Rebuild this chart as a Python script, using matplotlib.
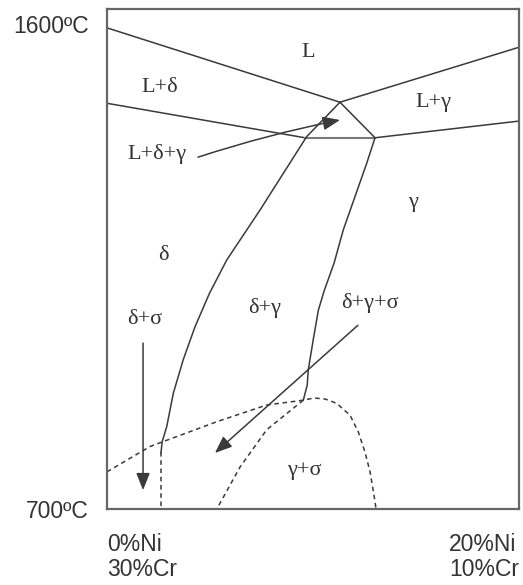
import matplotlib
matplotlib.use("Agg")
import matplotlib.pyplot as plt
from matplotlib.patches import FancyArrowPatch

# Pseudo-binary Fe-Cr-Ni section: x = %Ni (0..20), y = temperature in degC
liq_delta_ni = [0.0, 11.31]
liq_delta_t = [1593, 1455]
liq_gamma_ni = [11.31, 20.0]
liq_gamma_t = [1455, 1557]
sol_delta_ni = [0.0, 9.61]
sol_delta_t = [1453, 1389]
sol_gamma_ni = [13.01, 20.0]
sol_gamma_t = [1389, 1420]
eutectic_ni = [9.61, 13.01]
eutectic_t = [1389, 1389]
tri_right_ni = [11.31, 13.01]
tri_right_t = [1455, 1389]

delta_bound_ni = [11.31, 9.69, 8.56, 7.43, 5.81, 4.97, 4.27, 3.70, 3.22, 2.90, 2.68, 2.62]
delta_bound_t = [1455, 1391, 1323, 1255, 1162, 1100, 1038, 977, 915, 853, 825, 805]
delta_low_ni = [2.62, 2.62]
delta_low_t = [805, 700]

gamma_bound_ni = [13.01, 12.61, 12.04, 11.47, 11.02, 10.55, 10.26, 10.01, 9.77, 9.72, 9.53]
gamma_bound_t = [1389, 1342, 1280, 1218, 1156, 1106, 1069, 1014, 958, 930, 902]

sigma_ni = [0.0, 2.09, 2.72, 5.33, 7.75, 9.53, 10.05, 10.60, 11.15, 11.80, 12.20, 12.52, 12.77, 13.01, 13.06]
sigma_t = [769, 816, 825, 862, 893, 902, 906, 904, 896, 874, 843, 806, 769, 714, 700]

gs_bound_ni = [9.53, 7.75, 6.46, 5.33]
gs_bound_t = [902, 847, 778, 700]

region_labels = ["L", "L+δ", "L+γ", "L+δ+γ", "γ", "δ", "δ+γ", "δ+γ+σ", "δ+σ", "γ+σ"]
label_ni = [9.76, 2.57, 15.83, 2.43, 14.85, 2.72, 7.67, 12.77, 1.84, 9.56]
label_t = [1548, 1483, 1455, 1359, 1268, 1171, 1073, 1082, 1051, 771]

# arrows from start point to tip, with arc curvature
arrow_start_ni = [4.42, 1.75, 12.18]
arrow_start_t = [1353, 1008, 1041]
arrow_end_ni = [11.31, 1.75, 5.24]
arrow_end_t = [1422, 735, 804]
arrow_rad = [-0.03, 0.0, 0.0]

y_ticks = [700, 1600]
y_ticklabels = ["700ºC", "1600ºC"]
x_ticks = [0, 20]
x_ticklabels = ["0%Ni\n30%Cr", "20%Ni\n10%Cr"]

W, H = 523, 585
fig = plt.figure(figsize=(W / 100, H / 100), dpi=100)
ax = fig.add_axes([107 / W, 1 - 509 / H, 412 / W, 500 / H])
ax.set_xlim(0, 20)
ax.set_ylim(700, 1628)

line_c = "#3a3a3a"
lw = 1.1
solid = dict(color=line_c, lw=lw, solid_joinstyle="round")
dashed = dict(color=line_c, lw=lw, linestyle=(0, (3.0, 2.4)))

ax.plot(liq_delta_ni, liq_delta_t, **solid)
ax.plot(liq_gamma_ni, liq_gamma_t, **solid)
ax.plot(sol_delta_ni, sol_delta_t, **solid)
ax.plot(sol_gamma_ni, sol_gamma_t, **solid)
ax.plot(eutectic_ni, eutectic_t, color="#7a7a7a", lw=1.5)
ax.plot(tri_right_ni, tri_right_t, **solid)
ax.plot(delta_bound_ni, delta_bound_t, **solid)
ax.plot(gamma_bound_ni, gamma_bound_t, **solid)
ax.plot(delta_low_ni, delta_low_t, **dashed)
ax.plot(sigma_ni, sigma_t, **dashed)
ax.plot(gs_bound_ni, gs_bound_t, **dashed)

for sx, sy, ex, ey, rad in zip(arrow_start_ni, arrow_start_t, arrow_end_ni, arrow_end_t, arrow_rad):
    arr = FancyArrowPatch((sx, sy), (ex, ey), arrowstyle="-|>,head_length=8,head_width=3.2",
                          connectionstyle=f"arc3,rad={rad}", color=line_c, lw=1.1,
                          shrinkA=0, shrinkB=0, mutation_scale=1.3)
    ax.add_patch(arr)

for txt, x, y in zip(region_labels, label_ni, label_t):
    ax.text(x, y, txt, ha="center", va="center", fontsize=16, color="#333333",
            family=["Liberation Serif", "DejaVu Serif"])

for side in ["left", "right", "top", "bottom"]:
    ax.spines[side].set_color("#666666")
    ax.spines[side].set_linewidth(1.6)

ax.set_yticks(y_ticks)
ax.set_yticklabels(y_ticklabels, fontsize=16.5, family="Liberation Sans", color="#333333")
ax.tick_params(axis="y", length=0, pad=13)
ax.set_xticks(x_ticks)
ax.set_xticklabels(x_ticklabels, fontsize=16.5, family="Liberation Sans", color="#333333",
                   linespacing=1.15)
ax.tick_params(axis="x", length=0, pad=17)
xl = ax.get_xticklabels()
xl[0].set_ha("left")
xl[1].set_ha("right")
for t in xl:
    t.set_multialignment("left")

fig.savefig("out.png", dpi=100)
